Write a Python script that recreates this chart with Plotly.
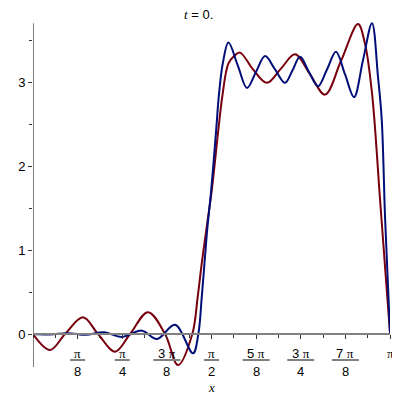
import math
import plotly.graph_objects as go

PI = math.pi

# ---- data (x in radians) ----
red_x = [0.000, 0.150, 0.282, 0.440, 0.572, 0.722, 0.854, 1.012, 1.162, 1.276,
         1.402, 1.449, 1.485, 1.525, 1.573, 1.631, 1.666, 1.719, 1.770, 1.822,
         1.936, 2.059, 2.182, 2.306, 2.438, 2.570, 2.710, 2.860, 2.921, 2.983,
         3.054, 3.098, 3.142]
red_y = [0.00, -0.19, 0.00, 0.20, 0.00, -0.21, 0.00, 0.26, 0.00, -0.37,
         0.00, 0.44, 0.84, 1.24, 1.71, 2.43, 2.83, 3.22, 3.31, 3.35,
         3.15, 2.99, 3.16, 3.33, 3.09, 2.85, 3.25, 3.69, 3.46, 2.87,
         1.60, 0.80, 0.00]

blue_x = [0.000, 0.150, 0.308, 0.466, 0.625, 0.783, 0.959, 1.091, 1.250, 1.408,
          1.455, 1.485, 1.509, 1.533, 1.568, 1.612, 1.635, 1.670, 1.720, 1.804,
          1.883, 1.962, 2.042, 2.130, 2.218, 2.284, 2.350, 2.429, 2.508, 2.587,
          2.666, 2.746, 2.825, 2.904, 2.983, 3.036, 3.069, 3.098, 3.142]
blue_y = [0.00, -0.005, 0.01, -0.01, 0.02, -0.035, 0.04, -0.06, 0.11, -0.23,
          0.00, 0.44, 0.84, 1.24, 1.71, 2.43, 2.83, 3.22, 3.47, 3.19,
          2.93, 3.12, 3.31, 3.15, 2.99, 3.14, 3.30, 3.12, 2.95, 3.15,
          3.36, 3.09, 2.82, 3.26, 3.70, 3.06, 2.55, 1.39, 0.00]

y_tickvals = [0, 1, 2, 3]
y_ticktext = ["0", "1", "2", "3"]

x_tick_k = [1, 2, 3, 4, 5, 6, 7, 8]          # multiples of pi/8
x_tick_num = ["", "", "3", "", "5", "3", "7", ""]   # coefficient before pi
x_tick_den = ["8", "4", "8", "2", "8", "4", "8", ""]

title_var = "t"
title_val = "0."
x_label = "x"

RED = "#78000E"
BLUE = "#000E78"
AXIS = "#808080"

SANS = "Liberation Sans"
SERIF = "Liberation Serif"

y_min, y_max = -0.4286, 3.798

fig = go.Figure()
fig.add_trace(go.Scatter(x=red_x, y=red_y, mode="lines",
                         line=dict(color=RED, width=2, shape="spline", smoothing=1),
                         showlegend=False, hoverinfo="skip"))
fig.add_trace(go.Scatter(x=blue_x, y=blue_y, mode="lines",
                         line=dict(color=BLUE, width=2, shape="spline", smoothing=1),
                         showlegend=False, hoverinfo="skip"))

xpos = (0 - y_min) / (y_max - y_min)

shapes = [
    dict(type="line", xref="x", yref="y", x0=0, x1=0, y0=-0.393, y1=3.70,
         line=dict(color=AXIS, width=2), layer="below"),
]
annotations = []
for k, num, den in zip(x_tick_k, x_tick_num, x_tick_den):
    xv = k * PI / 8
    pi_span = f'<span style="font-family:{SERIF}">π</span>'
    num_text = (num + " " + pi_span) if num else pi_span
    annotations.append(dict(x=xv, y=0, xref="x", yref="y", text=num_text,
                            showarrow=False, yshift=-19, yanchor="middle",
                            font=dict(family=SANS, size=13, color="black")))
    if den:
        annotations.append(dict(x=xv, y=0, xref="x", yref="y", text=den,
                                showarrow=False, yshift=-37, yanchor="middle",
                                font=dict(family=SANS, size=13, color="black")))
        half = 7.5 if not num else 13.5
        shapes.append(dict(type="line", xref="x", yref="y", xsizemode="pixel",
                           ysizemode="pixel", xanchor=xv, yanchor=0,
                           x0=-half, x1=half, y0=-26, y1=-26,
                           line=dict(color=AXIS, width=2)))

annotations.append(dict(x=PI / 2, y=0, xref="x", yref="y",
                        text=f"<i>{x_label}</i>", showarrow=False, yshift=-53,
                        yanchor="middle", font=dict(family=SERIF, size=13, color="black")))
annotations.append(dict(x=1.452, y=1.0028, xref="x", yref="paper",
                        text=f'<span style="font-family:{SERIF}"><i>{title_var}</i></span> = {title_val}',
                        showarrow=False, yanchor="middle",
                        font=dict(family=SANS, size=13, color="black")))

# the page body has an 8px margin, so the plot area is offset to land at
# x 33..390 and y 15..370 of the 400x400 window
fig.update_layout(
    width=400, height=400,
    margin=dict(l=25, r=18, t=7, b=38, autoexpand=False),
    paper_bgcolor="white", plot_bgcolor="white",
    xaxis=dict(range=[0, PI], anchor="free", position=xpos,
               showline=True, linecolor=AXIS, linewidth=2,
               ticks="outside", ticklen=4, tickwidth=1, tickcolor="#333333",
               tickvals=[k * PI / 8 for k in x_tick_k], showticklabels=False,
               showgrid=False, zeroline=False,
               minor=dict(dtick=PI / 16, tick0=0, ticks="outside", ticklen=3,
                          tickwidth=1, tickcolor="#333333", showgrid=False)),
    yaxis=dict(range=[y_min, y_max], showline=False,
               ticks="outside", ticklen=4, tickwidth=1, tickcolor="#333333",
               tickvals=y_tickvals, ticktext=y_ticktext,
               tickfont=dict(family=SANS, size=13, color="black"),
               showgrid=False, zeroline=False,
               minor=dict(dtick=0.5, tick0=0, ticks="outside", ticklen=3,
                          tickwidth=1, tickcolor="#333333", showgrid=False)),
    shapes=shapes,
    annotations=annotations,
)

fig.write_html("out.html")
